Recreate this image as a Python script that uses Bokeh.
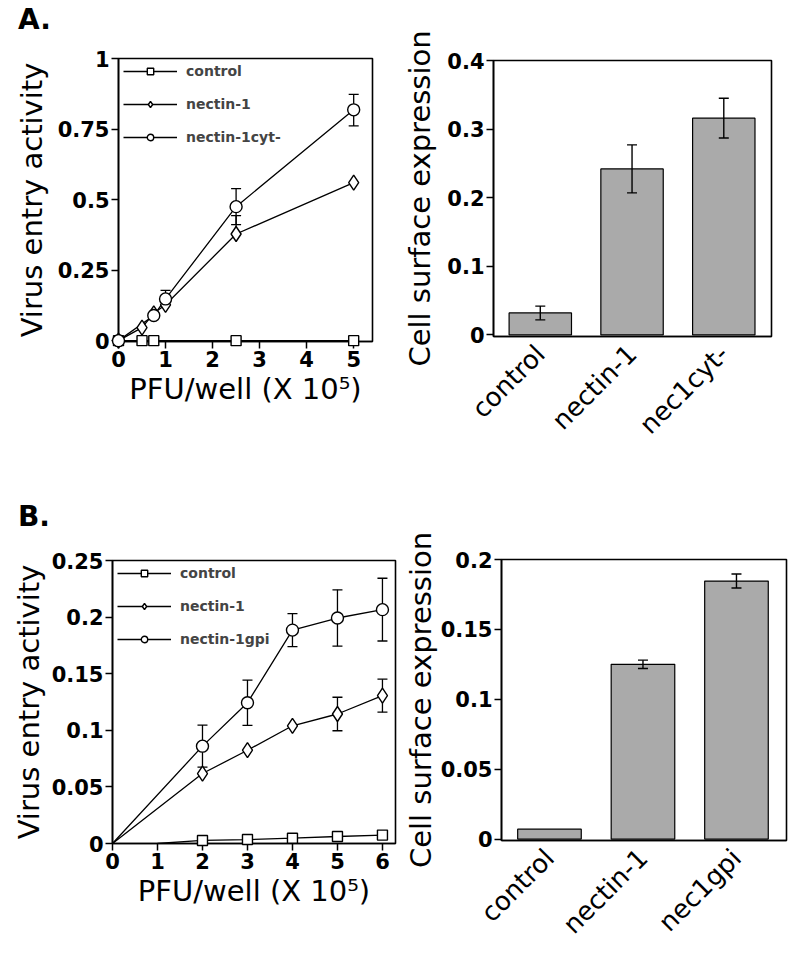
import math
from bokeh.plotting import figure
from bokeh.layouts import column, row
from bokeh.models import (ColumnDataSource, Whisker, TeeHead, FixedTicker,
                          Range1d, Legend, LegendItem, Div)
from bokeh.embed import file_html
from bokeh.resources import INLINE

FONT = "DejaVu Sans"

# ---------------- Panel A : virus entry ----------------
a_x_control = [0, 0.5, 0.75, 2.5, 5]
a_y_control = [0, 0, 0, 0, 0]

a_x_nectin = [0, 0.5, 0.75, 1, 2.5, 5]
a_y_nectin = [0, 0.046, 0.097, 0.127, 0.378, 0.56]
a_eu_nectin = [0, 0, 0, 0, 0.065, 0]
a_ed_nectin = [0, 0, 0, 0, 0, 0]

a_x_cyt = [0, 0.75, 1, 2.5, 5]
a_y_cyt = [0, 0.089, 0.148, 0.475, 0.818]
a_eu_cyt = [0, 0, 0.03, 0.064, 0.055]
a_ed_cyt = [0, 0, 0, 0.064, 0.057]

a_xticks = [0, 1, 2, 3, 4, 5]
a_yticks = [0, 0.25, 0.5, 0.75, 1]
a_ytick_labels = ["0", "0.25", "0.5", "0.75", "1"]

# Panel A : cell surface expression
a_bar_cats = ["control", "nectin-1", "nec1cyt-"]
a_bar_vals = [0.032, 0.242, 0.316]
a_bar_err = [0.010, 0.035, 0.029]
a_bar_yticks = [0, 0.1, 0.2, 0.3, 0.4]
a_bar_ytick_labels = ["0", "0.1", "0.2", "0.3", "0.4"]

# ---------------- Panel B : virus entry ----------------
b_x_control = [1, 2, 3, 4, 5, 6]
b_y_control = [0, 0.0027, 0.0035, 0.0047, 0.0062, 0.0074]

b_x_nectin = [0, 2, 3, 4, 5, 6]
b_y_nectin = [0, 0.0618, 0.0824, 0.104, 0.1144, 0.1306]
b_e_nectin = [0, 0, 0, 0, 0.0148, 0.0146]

b_x_gpi = [0, 2, 3, 4, 5, 6]
b_y_gpi = [0, 0.086, 0.1244, 0.1885, 0.1992, 0.2066]
b_e_gpi = [0, 0.0186, 0.02, 0.0146, 0.0249, 0.0277]

b_xticks = [0, 1, 2, 3, 4, 5, 6]
b_yticks = [0, 0.05, 0.1, 0.15, 0.2, 0.25]
b_ytick_labels = ["0", "0.05", "0.1", "0.15", "0.2", "0.25"]

# Panel B : cell surface expression
b_bar_cats = ["control", "nectin-1", "nec1gpi"]
b_bar_vals = [0.0071, 0.125, 0.1846]
b_bar_err = [0.0, 0.003, 0.005]
b_bar_yticks = [0, 0.05, 0.1, 0.15, 0.2]
b_bar_ytick_labels = ["0", "0.05", "0.1", "0.15", "0.2"]


def make_fig(width, height, xr, yr, borders, ylabel_standoff=0):
    left, right, top, bottom = borders
    p = figure(width=width, height=height, x_range=Range1d(*xr), y_range=Range1d(*yr),
               output_backend="svg", toolbar_location=None,
               min_border_left=left, min_border_right=right,
               min_border_top=top, min_border_bottom=bottom)
    p.xgrid.visible = False
    p.ygrid.visible = False
    p.outline_line_color = "black"
    p.outline_line_width = 1.6
    p.outline_line_alpha = 1
    p.background_fill_color = "white"
    p.border_fill_color = "white"
    for ax in (p.xaxis[0], p.yaxis[0]):
        ax.axis_line_width = 1.6
        ax.major_tick_line_width = 1.5
        ax.major_tick_out = 7
        ax.major_tick_in = 0
        ax.minor_tick_line_color = None
        ax.major_label_text_font = FONT
        ax.major_label_text_font_style = "bold"
        ax.major_label_text_font_size = "21px"
        ax.major_label_text_color = "black"
        ax.axis_label_text_font = FONT
        ax.axis_label_text_font_style = "normal"
        ax.axis_label_text_font_size = "29px"
        ax.axis_label_text_color = "black"
        ax.major_label_standoff = 2
    p.xaxis[0].axis_label_standoff = 2
    p.yaxis[0].axis_label_standoff = ylabel_standoff
    return p


def letter_div(text, height, top):
    html = ('<div style="font-family: \'DejaVu Sans\'; font-weight: bold; font-size: 28px; '
            'line-height: 28px; color: black; margin: %dpx 0 0 18px; padding: 0;">%s</div>'
            % (top, text))
    return Div(text=html, width=400, height=height, margin=0)


def set_yticks(p, ticks, labels):
    p.yaxis[0].ticker = FixedTicker(ticks=ticks)
    p.yaxis[0].major_label_overrides = {t: l for t, l in zip(ticks, labels)}


def add_legend(p, items):
    lg = Legend(items=items, location="top_left", margin=3, padding=2,
                background_fill_alpha=0, border_line_alpha=0,
                glyph_width=54, glyph_height=16, spacing=17, label_standoff=9,
                label_text_font=FONT, label_text_font_style="bold",
                label_text_font_size="14px")
    p.add_layout(lg)


def line_panel(p, series):
    items = []
    for (label, xs, ys, marker, size, first, eu, ed) in series:
        r_line = p.line(xs, ys, line_color="black", line_width=1.3)
        if eu is not None:
            idx = [i for i in range(len(xs)) if (eu[i] > 0 or ed[i] > 0)]
            src = ColumnDataSource(dict(
                base=[xs[i] for i in idx],
                upper=[ys[i] + eu[i] for i in idx],
                lower=[ys[i] - ed[i] for i in idx]))
            w = Whisker(base="base", upper="upper", lower="lower", source=src,
                        line_color="black", line_width=1.3,
                        upper_head=TeeHead(size=10, line_color="black", line_width=1.3),
                        lower_head=TeeHead(size=10, line_color="black", line_width=1.3))
            p.add_layout(w)
        r_pts = p.scatter(xs[first:], ys[first:], marker=marker, size=size,
                          fill_color="white", line_color="black", line_width=1.4,
                          level="overlay")
        items.append(LegendItem(label=label, renderers=[r_line, r_pts]))
    add_legend(p, items)


def bar_panel(p, cats, vals, errs):
    xs = list(range(1, len(cats) + 1))
    p.vbar(x=xs, top=vals, bottom=0, width=0.68, fill_color="#aaaaaa",
           line_color="black", line_width=1.2)
    idx = [i for i in range(len(xs)) if errs[i] > 0]
    src = ColumnDataSource(dict(base=[xs[i] for i in idx],
                                upper=[vals[i] + errs[i] for i in idx],
                                lower=[vals[i] - errs[i] for i in idx]))
    p.add_layout(Whisker(base="base", upper="upper", lower="lower", source=src,
                         line_color="black", line_width=1.4, level="overlay",
                         upper_head=TeeHead(size=10, line_color="black", line_width=1.4),
                         lower_head=TeeHead(size=10, line_color="black", line_width=1.4)))
    ax = p.xaxis[0]
    ax.ticker = FixedTicker(ticks=xs)
    ax.major_label_overrides = {x: c for x, c in zip(xs, cats)}
    ax.major_label_orientation = math.pi / 4
    ax.major_label_text_font_style = "normal"
    ax.major_label_text_font_size = "26px"
    ax.major_tick_line_color = None
    ax.major_label_standoff = 6


# ---- A left
p1 = make_fig(400, 417, (0, 5.4), (-0.003, 1.0), (118, 28, 22, 112), ylabel_standoff=6)
p1.xaxis[0].ticker = FixedTicker(ticks=a_xticks)
set_yticks(p1, a_yticks, a_ytick_labels)
p1.xaxis[0].axis_label = "PFU/well (X 10\u2075)"
p1.yaxis[0].axis_label = "Virus entry activity"
line_panel(p1, [
    ("control", a_x_control, a_y_control, "square", 10, 0, None, None),
    ("nectin-1", a_x_nectin, a_y_nectin, "diamond", 15, 0, a_eu_nectin, a_ed_nectin),
    ("nectin-1cyt-", a_x_cyt, a_y_cyt, "circle", 12, 0, a_eu_cyt, a_ed_cyt),
])

# ---- A right
p2 = make_fig(392, 453, (0.49, 3.52), (-0.0023, 0.4), (87, 21, 60, 110), ylabel_standoff=7)
set_yticks(p2, a_bar_yticks, a_bar_ytick_labels)
p2.yaxis[0].axis_label = "Cell surface expression"
bar_panel(p2, a_bar_cats, a_bar_vals, a_bar_err)

# ---- B left
p3 = make_fig(400, 418, (0, 6.29), (0, 0.25), (112, 5, 25, 110), ylabel_standoff=3)
p3.xaxis[0].ticker = FixedTicker(ticks=b_xticks)
set_yticks(p3, b_yticks, b_ytick_labels)
p3.xaxis[0].axis_label = "PFU/well (X 10\u2075)"
p3.yaxis[0].axis_label = "Virus entry activity"
line_panel(p3, [
    ("control", b_x_control, b_y_control, "square", 10, 1, None, None),
    ("nectin-1", b_x_nectin, b_y_nectin, "diamond", 15, 1, b_e_nectin, b_e_nectin),
    ("nectin-1gpi", b_x_gpi, b_y_gpi, "circle", 12, 1, b_e_gpi, b_e_gpi),
])

# ---- B right
p4 = make_fig(392, 500, (0.487, 3.535), (-0.001, 0.2), (101, 6, 106, 110))
set_yticks(p4, b_bar_yticks, b_bar_ytick_labels)
p4.yaxis[0].axis_label = "Cell surface expression"
bar_panel(p4, b_bar_cats, b_bar_vals, b_bar_err)

layout = column(
    row(column(letter_div("A.", 36, 6), p1), p2),
    row(column(letter_div("B.", 82, 50), p3), p4),
)
open("out.html", "w").write(file_html(layout, INLINE))
